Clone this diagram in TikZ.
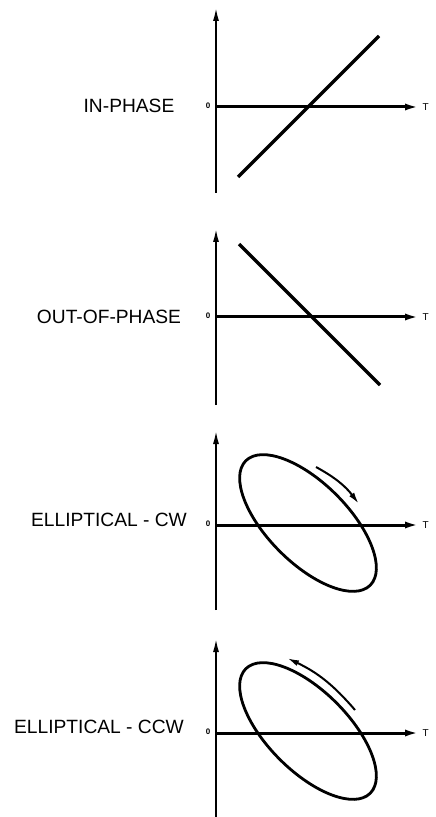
\documentclass[tikz,border=0pt]{standalone}
\usepackage{fontspec}
\setmainfont{Liberation Sans}
\usetikzlibrary{arrows.meta}

\begin{document}
\begin{tikzpicture}[
  x=0.5pt, y=-0.5pt,
  lbl/.style={inner sep=0pt, font=\fontsize{9.6}{11}\selectfont},
  tag/.style={inner sep=0.6pt, anchor=west, font=\fontsize{5}{5}\selectfont},
  zero/.style={inner sep=0pt, font=\fontsize{4}{4}\selectfont\bfseries},
  vaxis/.style={line width=1pt, -{Latex[length=7pt,width=3pt]}},
  haxis/.style={line width=1.5pt, -{Latex[length=8pt,width=3.4pt]}},
  curve/.style={line width=1.6pt},
  turn/.style={line width=1pt, -{Latex[length=6pt,width=3pt]}}
]
\useasboundingbox (0,0) rectangle (435,817);

% in-phase
\coordinate (o1) at (216,107);
\coordinate (top1) at (216,7);
\coordinate (bot1) at (216,193);
\node[tag] (t1) at (421,107) {T};
\node[zero] (z1) at (208,106) {0};
\node[lbl] (inph) at (129,106) {IN-PHASE};
\draw[vaxis] (bot1) -- (top1);
\draw[haxis] (o1) -- (t1.west);
\coordinate (a1) at (238,177);
\coordinate (b1) at (379,36);
\draw[curve] (a1) -- (b1);

% out-of-phase
\coordinate (o2) at (216,317);
\coordinate (top2) at (216,228);
\coordinate (bot2) at (216,405);
\node[tag] (t2) at (421,317) {T};
\node[zero] (z2) at (208,316) {0};
\node[lbl] (outph) at (109,317) {OUT-OF-PHASE};
\draw[vaxis] (bot2) -- (top2);
\draw[haxis] (o2) -- (t2.west);
\coordinate (a2) at (239,244);
\coordinate (b2) at (380,385);
\draw[curve] (a2) -- (b2);

% elliptical, clockwise
\coordinate (o3) at (216,525);
\coordinate (top3) at (216,430);
\coordinate (bot3) at (216,610);
\node[tag] (t3) at (421,525) {T};
\node[zero] (z3) at (208,524) {0};
\node[lbl] (ecw) at (109,520) {ELLIPTICAL - CW};
\draw[vaxis] (bot3) -- (top3);
\draw[haxis] (o3) -- (t3.west);
\coordinate (c3) at (308,523);
\draw[curve, line width=1.4pt, rotate around={-45:(c3)}] (c3) ellipse [x radius=88, y radius=40];
\coordinate (p3) at (316,467);
\coordinate (q3) at (359,504);
\draw[turn] (p3) to[bend left=12] (q3);

% elliptical, counter-clockwise
\coordinate (o4) at (216,733);
\coordinate (top4) at (216,638);
\coordinate (bot4) at (216,817);
\node[tag] (t4) at (421,733) {T};
\node[zero] (z4) at (208,732) {0};
\node[lbl] (eccw) at (99,727) {ELLIPTICAL - CCW};
\draw[vaxis] (bot4) -- (top4);
\draw[haxis] (o4) -- (t4.west);
\coordinate (c4) at (308,731);
\draw[curve, line width=1.4pt, rotate around={-45:(c4)}] (c4) ellipse [x radius=88, y radius=40];
\coordinate (p4) at (355,710);
\coordinate (q4) at (287,658);
\draw[turn] (p4) to[bend right=12] (q4);

\end{tikzpicture}
\end{document}
